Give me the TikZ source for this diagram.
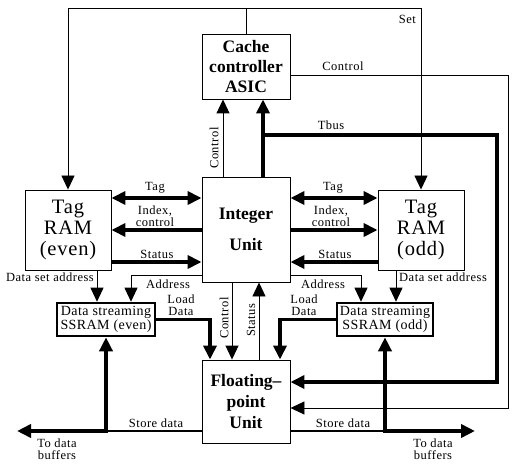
\documentclass[tikz,border=0pt]{standalone}
\usepackage{fontspec}
\setmainfont{Liberation Serif}
\newfontfamily\lblfont[LetterSpace=4]{Liberation Serif}
\newfontfamily\tagfont[LetterSpace=4]{Liberation Serif}
\newfontfamily\ssfont[LetterSpace=3]{Liberation Serif}
\usetikzlibrary{arrows.meta}
\begin{document}
\begin{tikzpicture}[x=1pt,y=-1pt,
  bbox/.style={draw,line width=0.9pt,inner sep=0pt,align=center,font=\bfseries\fontsize{17.5}{20}\selectfont},
  tbox/.style={draw,line width=0.9pt,inner sep=0pt,align=center,font=\tagfont\fontsize{20.5}{21}\selectfont,minimum width=86pt,minimum height=80pt},
  sbox/.style={draw,line width=2.6pt,inner sep=0pt,align=center,font=\ssfont\fontsize{14}{14.5}\selectfont,minimum height=33pt},
  lbl/.style={font=\lblfont\fontsize{12.5}{12.5}\selectfont,inner sep=0pt,align=center},
  thinl/.style={line width=0.9pt},
  thickl/.style={line width=3.6pt},
  midl/.style={line width=2.8pt},
  arr/.style={-{Triangle[length=14pt,width=13pt]}},
  darr/.style={{Triangle[length=14pt,width=13pt]}-{Triangle[length=14pt,width=13pt]}}
]
\useasboundingbox (0,0) rectangle (517,468);

% nodes
\node[bbox,minimum width=88pt,minimum height=65pt] (cache) at (246,66.5) {Cache\\controller\\ASIC};
\node[bbox,minimum width=88pt,minimum height=105pt,font=\bfseries\fontsize{17.5}{31}\selectfont] (integer) at (246,229.5) {Integer\\Unit};
\node[bbox,minimum width=88pt,minimum height=83pt,font=\bfseries\fontsize{17.5}{21}\selectfont] (fpu) at (246,401.5) {Floating–\\point\\Unit};
\node[tbox] (tagE) at (68,230) {Tag\\RAM\\(even)};
\node[tbox] (tagO) at (421,230) {Tag\\RAM\\(odd)};
\node[sbox,minimum width=98pt] (ssE) at (106,319.5) {Data streaming\\SSRAM (even)};
\node[sbox,minimum width=96pt] (ssO) at (385,319.5) {Data streaming\\SSRAM (odd)};

% helper coordinates
\coordinate (jt) at (246,8);
\coordinate (yCtl) at (0,75);
\coordinate (xCt) at (508,0);
\coordinate (yTb) at (0,135);
\coordinate (xTb) at (497,0);
\coordinate (yFt) at (0,382);
\coordinate (yFc) at (0,408);
\coordinate (yTag) at (0,198);
\coordinate (yIdx) at (0,230);
\coordinate (ySt) at (0,262);
\coordinate (yAddr) at (0,275);
\coordinate (yStore) at (0,431);
\coordinate (bufL) at (17,431);
\coordinate (bufR) at (475,431);
\coordinate (tbBase) at ([xshift=17pt]integer.north);
\coordinate (ciBase) at ([xshift=-23pt]integer.north);
\coordinate (cfBase) at ([xshift=-14pt]integer.south);
\coordinate (sfBase) at ([xshift=13pt]fpu.north);
\coordinate (dsE) at ([xshift=29pt]tagE.south);
\coordinate (dsO) at ([xshift=-25pt]tagO.south);

% Set frame
\draw[thinl] (cache.north) -- (jt);
\draw[thinl,darr] (tagE.north) -- (tagE.north |- jt) -- (tagO.north |- jt) -- (tagO.north);
\node[lbl,anchor=east] (lset) at (416,19) {Set};

% Control (cache -> fpu)
\draw[thinl,arr] (cache.east |- yCtl) -- (xCt |- yCtl) -- (xCt |- yFc) -- (fpu.east |- yFc);
\node[lbl] (lctl) at (343,66) {Control};

% Tbus
\draw[thickl,arr] (tbBase) -- (tbBase |- cache.south);
\draw[thickl,arr] (tbBase |- yTb) -- (xTb |- yTb) -- (xTb |- yFt) -- (fpu.east |- yFt);
\node[lbl] (ltbus) at (331,125) {Tbus};

% Control (integer -> cache)
\draw[thinl,arr] (ciBase) -- (ciBase |- cache.south);
\node[lbl,rotate=90] (lctl2) at (214,148) {Control};

% Tag / Index / Status left
\draw[thickl,darr] (tagE.east |- yTag) -- (integer.west |- yTag);
\draw[thickl,arr] (integer.west |- yIdx) -- (tagE.east |- yIdx);
\draw[thickl,arr] (tagE.east |- ySt) -- (integer.west |- ySt);
\node[lbl] (ltagL) at (155,188) {Tag};
\node[lbl] (lidxL) at (155,216) {Index,\\control};
\node[lbl] (lstL) at (157,254) {Status};

% Tag / Index / Status right
\draw[thickl,darr] (integer.east |- yTag) -- (tagO.west |- yTag);
\draw[thickl,arr] (integer.east |- yIdx) -- (tagO.west |- yIdx);
\draw[thickl,arr] (tagO.west |- ySt) -- (integer.east |- ySt);
\node[lbl] (ltagR) at (333,188) {Tag};
\node[lbl] (lidxR) at (331,216) {Index,\\control};
\node[lbl] (lstR) at (335,254) {Status};

% Address and data set address
\draw[thinl,arr] (integer.west |- yAddr) -| ([xshift=25pt]ssE.north);
\draw[thinl,arr] (integer.east |- yAddr) -| ([xshift=-24pt]ssO.north);
\draw[thinl,arr] (dsE) -- (dsE |- ssE.north);
\draw[thinl,arr] (dsO) -- (dsO |- ssO.north);
\node[lbl] (laddrL) at (168,284) {Address};
\node[lbl] (laddrR) at (323,284) {Address};
\node[lbl,anchor=east] (ldsL) at (94,277) {Data set address};
\node[lbl,anchor=west] (ldsR) at (399,277) {Data set address};

% Load data
\draw[thickl,arr] (ssE.east) -| ([xshift=-36pt]fpu.north);
\draw[thickl,arr] (ssO.west) -| ([xshift=34pt]fpu.north);
\node[lbl] (lldL) at (181,305) {Load\\Data};
\node[lbl] (lldR) at (304,305) {Load\\Data};

% Control / Status between integer and fpu
\draw[thinl,arr] (cfBase) -- (cfBase |- fpu.north);
\draw[thinl,arr] (sfBase) -- (sfBase |- integer.south);
\node[lbl,rotate=90] (lctl3) at (224,318) {Control};
\node[lbl,rotate=90] (lst3) at (251,320) {Status};

% Store data
\draw[midl] (fpu.west |- yStore) -- (ssE.south |- yStore);
\draw[thickl,darr] (bufL) -- (ssE.south |- yStore) -- (ssE.south);
\draw[midl] (fpu.east |- yStore) -- (ssO.south |- yStore);
\draw[thickl,darr] (bufR) -- (ssO.south |- yStore) -- (ssO.south);
\node[lbl] (lsdL) at (156,423) {Store data};
\node[lbl] (lsdR) at (343,423) {Store data};
\node[lbl] (lbufL) at (57,449) {To data\\buffers};
\node[lbl] (lbufR) at (433,449) {To data\\buffers};
\end{tikzpicture}
\end{document}
